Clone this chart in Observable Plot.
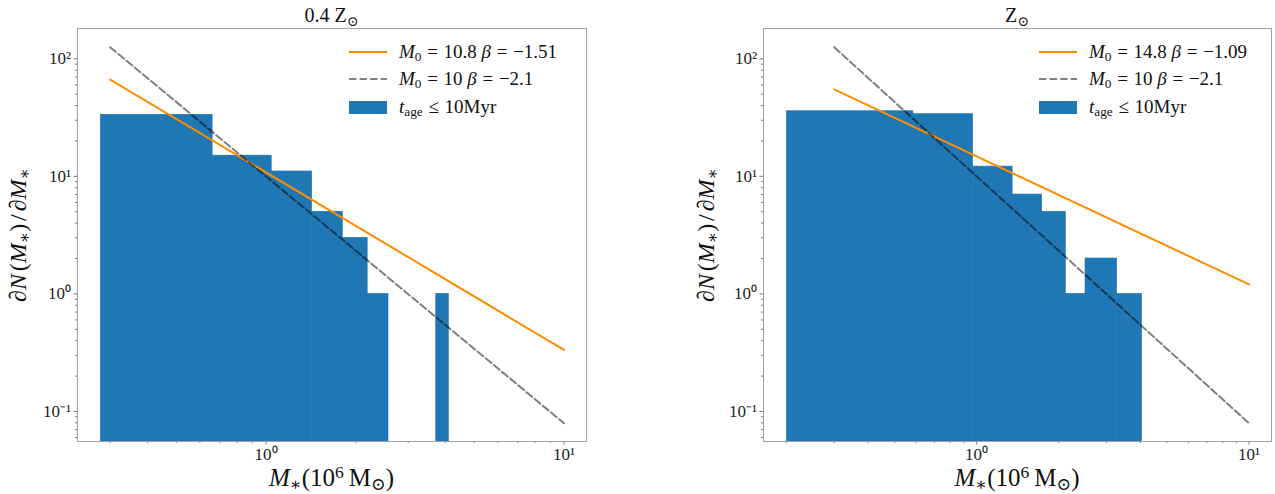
<!DOCTYPE html>
<html><head><meta charset="utf-8">
<script src="https://cdn.jsdelivr.net/npm/d3@7"></script>
<script src="https://cdn.jsdelivr.net/npm/@observablehq/plot@0.6"></script>
<style>
body{margin:0;background:#fff;}
#wrap{position:relative;width:1275px;height:494px;font-family:"Liberation Serif","DejaVu Serif",serif;color:#111;overflow:hidden;}
.panel{position:absolute;top:0;}
.ov{position:absolute;white-space:nowrap;line-height:1;}
.ov sub{font-size:0.7em;vertical-align:-0.25em;line-height:0;}
.ov sup{font-size:0.7em;vertical-align:0.45em;line-height:0;}
.ov .eq{margin:0 0.3em;}
.ov .th{margin-left:0.12em;}
.ov .th2{margin-left:0.2em;}
</style></head><body><div id="wrap"></div>
<script>
// ---- data ----
const panelTitles = ["0.4 Z<sub>⊙</sub>", "Z<sub>⊙</sub>"];
const edgesLow = [0.279, 0.662, 1.045, 1.428, 1.811, 2.194, 2.577, 2.960, 3.343, 3.726, 4.109];
const densLow  = [33.4, 15, 11, 5, 3, 1, 0, 0, 0, 1];
const edgesSol = [0.201, 0.586, 0.971, 1.356, 1.741, 2.126, 2.511, 2.896, 3.281, 3.666, 4.051];
const densSol  = [35.8, 33.8, 12.1, 7, 5, 1, 2, 2, 1, 1];
const fitM0   = [10.8, 14.8];
const fitBeta = [-1.51, -1.09];
const refM0 = 10, refBeta = -2.1;
const lineX = [0.3, 10];
const EQ = '<span class="eq">=</span>';
const fitLabels = [
  `<i>M</i><sub>0</sub>${EQ}10.8 <i>β</i>${EQ}−1.51`,
  `<i>M</i><sub>0</sub>${EQ}14.8 <i>β</i>${EQ}−1.09`
];
const refLabel = `<i>M</i><sub>0</sub>${EQ}10 <i>β</i>${EQ}−2.1`;
const histLabel = '<i>t</i><sub>age</sub><span class="eq">≤</span>10Myr';
const yMajor = [0.1, 1, 10, 100];
const yMajorLabels = ["10⁻¹", "10⁰", "10¹", "10²"];
const xMajor = [1, 10];
const xMajorLabels = ["10⁰", "10¹"];
const xLabel = '<i>M</i><sub>∗</sub>(10<sup>6</sup><span class="th2"></span>M<sub>⊙</sub>)';
const yLabel = '∂<i>N</i><span class="th"></span>(<i>M</i><sub>∗</sub>)<span class="th"></span>/<span class="th"></span>∂<i>M</i><sub>∗</sub>';

// ---- layout / style ----
const BLUE = "#1f77b4", ORANGE = "#ff8c00";
const yDomain = [0.0555, 181];
const panels = [
  {left: 0,   width: 637, mL: 77,  mR: 51, xDom: [0.233, 11.9], edges: edgesLow, dens: densLow, i: 0},
  {left: 637, width: 638, mL: 126, mR: 4,  xDom: [0.165, 12.1], edges: edgesSol, dens: densSol, i: 1}
];
const mT = 28, mB = 53, H = 494;
const wrap = document.getElementById("wrap");

function minorTicks(dom, majors) {
  return d3.scaleLog().domain(dom).ticks().filter(t => !majors.some(m => Math.abs(t / m - 1) < 1e-6));
}
function ov(html, x, y, tf, size) {
  const d = document.createElement("div");
  d.className = "ov";
  d.innerHTML = html;
  d.style.left = x + "px"; d.style.top = y + "px";
  d.style.fontSize = size + "px";
  d.style.transform = tf;
  wrap.appendChild(d);
  return d;
}

for (const p of panels) {
  const bars = p.edges.slice(0, -1).map((e, k) => ({x1: e, x2: p.edges[k + 1], y: p.dens[k]})).filter(d => d.y > 0);
  const fit = lineX.map(x => ({x, y: fitM0[p.i] * Math.pow(x, fitBeta[p.i])}));
  const ref = lineX.map(x => ({x, y: refM0 * Math.pow(x, refBeta)}));
  const yMap = new Map(yMajor.map((v, k) => [v, yMajorLabels[k]]));
  const xMap = new Map(xMajor.map((v, k) => [v, xMajorLabels[k]]));
  const chart = Plot.plot({
    width: p.width, height: H,
    marginLeft: p.mL, marginRight: p.mR, marginTop: mT, marginBottom: mB,
    x: {type: "log", domain: p.xDom, label: null},
    y: {type: "log", domain: yDomain, label: null},
    style: {fontFamily: "'Liberation Serif', serif", fontSize: "17px", color: "#222", background: "white"},
    marks: [
      Plot.rect(bars, {x1: "x1", x2: "x2", y1: yDomain[0], y2: "y", fill: BLUE, stroke: BLUE, strokeWidth: 0.6, inset: 0}),
      Plot.line(fit, {x: "x", y: "y", stroke: ORANGE, strokeWidth: 2}),
      Plot.line(ref, {x: "x", y: "y", stroke: "black", strokeOpacity: 0.5, strokeWidth: 2, strokeDasharray: "7.4,3.2"}),
      Plot.axisY({ticks: minorTicks(yDomain, yMajor), tickSize: 2, tickFormat: () => "", stroke: "#777", label: null}),
      Plot.axisY({ticks: yMajor, tickSize: 3.5, tickPadding: 3, tickFormat: d => yMap.get(d), stroke: "#777", fill: "#222", label: null}),
      Plot.axisX({ticks: minorTicks(p.xDom, xMajor), tickSize: 2, tickFormat: () => "", stroke: "#777", label: null}),
      Plot.axisX({ticks: xMajor, tickSize: 3.5, tickPadding: 3, tickFormat: d => xMap.get(d), stroke: "#777", fill: "#222", label: null}),
      Plot.frame({stroke: "#a0a0a0", strokeWidth: 1})
    ]
  });
  const holder = document.createElement("div");
  holder.className = "panel";
  holder.style.left = p.left + "px";
  holder.appendChild(chart);
  wrap.appendChild(holder);

  const fx0 = p.left + p.mL, fx1 = p.left + p.width - p.mR;
  const cx = (fx0 + fx1) / 2;
  ov(panelTitles[p.i], cx, 5, "translateX(-50%)", 20);
  ov(xLabel, cx, 465, "translateX(-50%)", 25);
  ov(yLabel, p.left + (p.i === 0 ? 18 : 69), (mT + H - mB) / 2, "translate(-50%,-50%) rotate(-90deg)", 24);

  const lx = p.i === 0 ? 349 : 1039;
  const rows = [
    {y: 52, html: fitLabels[p.i], sw: `<svg width="38" height="6" style="display:block"><line x1="0" x2="38" y1="3" y2="3" stroke="${ORANGE}" stroke-width="2"/></svg>`, h: 6},
    {y: 79, html: refLabel, sw: `<svg width="38" height="6" style="display:block"><line x1="0" x2="38" y1="3" y2="3" stroke="black" stroke-opacity="0.5" stroke-width="2" stroke-dasharray="7.4,3.2"/></svg>`, h: 6},
    {y: 107, html: histLabel, sw: `<svg width="38" height="13" style="display:block"><rect x="0" y="0" width="38" height="13" fill="${BLUE}"/></svg>`, h: 13}
  ];
  for (const r of rows) {
    const s = document.createElement("div");
    s.style.position = "absolute";
    s.style.left = lx + "px";
    s.style.top = (r.y - r.h / 2) + "px";
    s.innerHTML = r.sw;
    wrap.appendChild(s);
    ov(r.html, lx + 50, r.y, "translateY(-55%)", 19);
  }
}
</script></body></html>
